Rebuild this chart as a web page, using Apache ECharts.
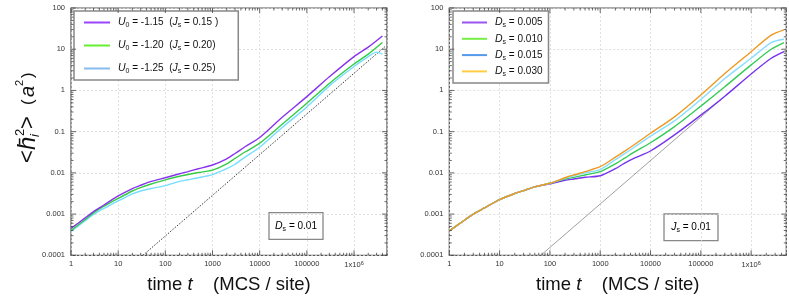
<!DOCTYPE html>
<html><head><meta charset="utf-8">
<script src="https://cdn.jsdelivr.net/npm/echarts@6/dist/echarts.min.js"></script>
<style>html,body{margin:0;padding:0;background:#fff}#c{width:789px;height:300px}</style>
</head><body><div id="c"></div>
<script>
// ---------- data ----------
const xTickLabels = ['1','10','100','1000','10000','100000','1x10^6'];
const yTickLabels = ['0.0001','0.001','0.01','0.1','1','10','100'];

// left panel : D_s = 0.01
const tLeft      = [1, 2, 3, 5, 10, 20, 30, 50, 100, 200, 300, 500, 1000, 2000, 3000, 5000, 1e4, 3e4, 1e5, 3e5, 1e6, 2e6, 4e6];
const leftU115   = [0.00045,0.00081,0.00115,0.00166,0.00275,0.00417,0.0050,0.0062,0.0076,0.0095,0.0107,0.0126,0.0155,0.0219,0.0295,0.0437,0.0724,0.224,0.708,2.14,6.61,11.2,20.9];
const leftU120   = [0.00040,0.00074,0.00107,0.00155,0.0024,0.00363,0.00437,0.00537,0.00676,0.0083,0.0091,0.0102,0.0117,0.0166,0.0224,0.0325,0.0525,0.151,0.49,1.48,4.37,7.59,14.5];
const tLeftC     = [1, 2, 3, 5, 10, 20, 30, 50, 100, 200, 300, 500, 1000, 2000, 3000, 5000, 1e4, 3e4, 1e5, 3e5, 1e6, 2e6, 3e6, 4e6];
const leftU125   = [0.00038,0.00069,0.00098,0.00138,0.00209,0.00309,0.00363,0.00417,0.0049,0.0062,0.0068,0.0076,0.0091,0.0126,0.0162,0.0245,0.0417,0.126,0.398,1.29,3.80,6.61,8.51,7.59];
const leftRefT   = [33.5, 4.5e6];
const leftRefY   = [0.0001, 11.5];

// right panel : J_s = 0.01
const tRight     = [1, 2, 3, 5, 10, 20, 30, 50, 100, 200, 300, 500, 1000, 2000, 3000, 5000, 1e4, 3e4, 1e5, 3e5, 1e6, 2.5e6, 4.5e6];
const rightD005  = [0.00039,0.00071,0.0010,0.00141,0.00224,0.00316,0.00372,0.00457,0.0054,0.0066,0.0071,0.0078,0.0085,0.0126,0.0170,0.0234,0.0339,0.0832,0.251,0.724,2.51,6.03,8.71];
const rightD010  = [0.00039,0.00071,0.0010,0.00141,0.00224,0.00316,0.00372,0.00457,0.0056,0.0071,0.0078,0.0089,0.0107,0.0166,0.0224,0.0331,0.0537,0.132,0.417,1.23,4.17,10.0,14.5];
const rightD015  = [0.00039,0.00071,0.0010,0.00141,0.00224,0.00316,0.00372,0.00457,0.0056,0.0074,0.0085,0.0100,0.0120,0.0209,0.0288,0.0437,0.0776,0.182,0.603,1.95,6.03,14.5,17.4];
const rightD030  = [0.00039,0.00071,0.0010,0.00141,0.00224,0.00316,0.00372,0.00457,0.0056,0.0076,0.0089,0.0107,0.0141,0.024,0.0331,0.0501,0.0912,0.229,0.776,2.57,8.71,21.9,29.5];
const rightRefT  = [66, 3e5];
const rightRefY  = [0.0001, 0.72];

// ---------- helpers ----------
const F = '"Liberation Sans", Arial, Helvetica, sans-serif';
const pair = (ts, ys) => ts.map((t, i) => [t, ys[i]]);
const X_MIN = 1, X_MAX = 5e6, Y_MIN = 0.0001, Y_MAX = 100;

function xFmt(v){
  const l = Math.log10(v), k = Math.round(l);
  if (Math.abs(l - k) > 1e-6 || k < 0 || k >= xTickLabels.length) return '';
  const s = xTickLabels[k];
  if (s.indexOf('^') >= 0){ const p = s.split('^'); return '{a|' + p[0] + '}{s|' + p[1] + '}'; }
  return '{a|' + s + '}';
}
function yFmt(v){
  const l = Math.log10(v), k = Math.round(l) + 4;
  if (Math.abs(l - Math.round(l)) > 1e-6 || k < 0 || k >= yTickLabels.length) return '';
  return yTickLabels[k];
}
// tick positions (decoration: decades and their 2..9 minors)
function tickList(lo, hi){
  const out = [];
  for (let e = Math.round(Math.log10(lo)); Math.pow(10, e) <= hi; e++){
    const d = Math.pow(10, e);
    for (let k = 1; k <= 9; k++){ const v = k * d; if (v >= lo*0.999 && v <= hi*1.001) out.push([v, k === 1 ? 1 : 0]); }
  }
  return out;
}
const xt = tickList(X_MIN, X_MAX), yt = tickList(Y_MIN, Y_MAX);

function tickSeries(idx){
  return [{
    type:'custom', xAxisIndex:idx, yAxisIndex:idx, silent:true, z:5, clip:false,
    data: xt.map(d => [d[0], 1, d[1]]),
    renderItem:(params, api) => {
      const cs = params.coordSys, p = api.coord([api.value(0), 1]);
      const len = api.value(2) ? 5 : 2.5, st = {stroke:'#444', lineWidth:0.8};
      return {type:'group', children:[
        {type:'line', shape:{x1:p[0], y1:cs.y+cs.height, x2:p[0], y2:cs.y+cs.height-len}, style:st},
        {type:'line', shape:{x1:p[0], y1:cs.y, x2:p[0], y2:cs.y+len}, style:st}]};
    }
  },{
    type:'custom', xAxisIndex:idx, yAxisIndex:idx, silent:true, z:5, clip:false,
    data: yt.map(d => [1, d[0], d[1]]),
    renderItem:(params, api) => {
      const cs = params.coordSys, p = api.coord([1, api.value(1)]);
      const len = api.value(2) ? 5 : 2.5, st = {stroke:'#444', lineWidth:0.8};
      return {type:'group', children:[
        {type:'line', shape:{x1:cs.x, y1:p[1], x2:cs.x+len, y2:p[1]}, style:st},
        {type:'line', shape:{x1:cs.x+cs.width, y1:p[1], x2:cs.x+cs.width-len, y2:p[1]}, style:st}]};
    }
  }];
}

function xAxis(idx){
  return {type:'log', logBase:10, gridIndex:idx, min:X_MIN, max:X_MAX,
    axisLine:{show:false}, axisTick:{show:false},
    splitLine:{show:true, lineStyle:{color:'#d8d8d8', type:[2,2], width:0.8}},
    axisLabel:{formatter:xFmt, margin:5, color:'#333', showMaxLabel:false,
      rich:{a:{fontSize:7.5, fontFamily:F, color:'#333'}, s:{fontSize:5.5, fontFamily:F, color:'#333', verticalAlign:'top', padding:[0,0,4,0]}}},
    name:'{n|time }{i|t}{n|    (MCS / site)}', nameLocation:'middle', nameGap:20,
    nameTextStyle:{rich:{n:{fontSize:18.5, fontFamily:F, color:'#111'}, i:{fontSize:18.5, fontFamily:F, fontStyle:'italic', color:'#111'}}}
  };
}
function yAxis(idx){
  return {type:'log', logBase:10, gridIndex:idx, min:Y_MIN, max:Y_MAX,
    axisLine:{show:false}, axisTick:{show:false},
    splitLine:{show:true, lineStyle:{color:'#d8d8d8', type:[2,2], width:0.8}},
    axisLabel:{formatter:yFmt, margin:6, color:'#333', fontSize:7.5, fontFamily:F}
  };
}

const legRich = {
  n:{fontSize:10, fontFamily:F, color:'#111', lineHeight:13},
  i:{fontSize:10.5, fontFamily:F, fontStyle:'italic', color:'#111', lineHeight:13},
  sb:{fontSize:7, fontFamily:F, color:'#111', verticalAlign:'bottom', lineHeight:8}
};
const legNames = {
  L1:'{i|U}{sb|0}{n| = -1.15  (}{i|J}{sb|s}{n| = 0.15 )}',
  L2:'{i|U}{sb|0}{n| = -1.20  (}{i|J}{sb|s}{n| = 0.20)}',
  L3:'{i|U}{sb|0}{n| = -1.25  (}{i|J}{sb|s}{n| = 0.25)}',
  R1:'{i|D}{sb|s}{n| = 0.005}', R2:'{i|D}{sb|s}{n| = 0.010}',
  R3:'{i|D}{sb|s}{n| = 0.015}', R4:'{i|D}{sb|s}{n| = 0.030}'
};
const legBase = {orient:'vertical', icon:'rect', itemHeight:2, selectedMode:false,
  backgroundColor:'#fff', borderColor:'#888', borderWidth:1.5,
  formatter:n => legNames[n], textStyle:{rich:legRich, padding:[0,0,0,3]}};

function line(name, data, color, idx, w){
  return {type:'line', name, xAxisIndex:idx, yAxisIndex:idx, data, showSymbol:false, symbol:'none',
    smooth:0.25, lineStyle:{color, width:w||1.4}, itemStyle:{color}, z:3, silent:true};
}
function insetBox(x, y, w, h, txt){
  return {type:'group', x, y, z:50, children:[
    {type:'rect', shape:{x:0, y:0, width:w, height:h}, style:{fill:'#fff', stroke:'#888', lineWidth:1.3}},
    {type:'text', x:w/2, y:h/2, style:{text:txt, align:'center', verticalAlign:'middle',
      rich:legRich}}]};
}
function yTitlePart(x, y, text, size, italic){
  return {type:'text', x, y, style:{text, fontSize:size, fontFamily:F, fontStyle:italic?'italic':'normal',
    fill:'#111', align:'left', verticalAlign:'middle'}};
}

const option = {
  animation:false,
  grid:[
    {left:71, top:8, width:316, height:247.3, show:true, borderColor:'#555', borderWidth:1.2, backgroundColor:'transparent'},
    {left:449.3, top:8, width:337, height:247.3, show:true, borderColor:'#555', borderWidth:1.2, backgroundColor:'transparent'}
  ],
  xAxis:[xAxis(0), xAxis(1)],
  yAxis:[yAxis(0), yAxis(1)],
  legend:[
    Object.assign({}, legBase, {left:74, top:11, itemGap:11, itemWidth:26, padding:[6,20,5,10],
      data:[{name:'L1', itemStyle:{color:'#9944ff'}}, {name:'L2', itemStyle:{color:'#66ee33'}}, {name:'L3', itemStyle:{color:'#88bbee'}}]}),
    Object.assign({}, legBase, {left:453, top:11, itemGap:4.3, itemWidth:25, padding:[6,6,5,9],
      data:[{name:'R1', itemStyle:{color:'#9955ee'}}, {name:'R2', itemStyle:{color:'#77ee44'}}, {name:'R3', itemStyle:{color:'#5599ee'}}, {name:'R4', itemStyle:{color:'#ffcc44'}}]})
  ],
  graphic:[
    {type:'group', x:28, y:117, rotation:Math.PI/2, children:[
      yTitlePart(-46, 0, '<', 22, false),
      yTitlePart(-33, 0, 'h\u0304', 24, true),
      yTitlePart(-19, -8, '2', 13, false),
      yTitlePart(-20, 7, 'i', 13, true),
      yTitlePart(-12, 0, '>', 22, false),
      yTitlePart(12, 0, '(', 17, false),
      yTitlePart(20, 0, 'a', 20, true),
      yTitlePart(31, -8, '2', 11, false),
      yTitlePart(39, 0, ')', 17, false)
    ]},
    insetBox(269, 212.7, 54, 26.6, '{i|D}{sb|s}{n| = 0.01}'),
    insetBox(664, 214, 54, 26.7, '{i|J}{sb|s}{n| = 0.01}')
  ],
  series:[
    {type:'line', name:'refL', xAxisIndex:0, yAxisIndex:0, data:pair(leftRefT, leftRefY), symbol:'none', silent:true,
      lineStyle:{color:'#222', width:0.9, type:[1.5,1.5]}, z:2},
    line('L3', pair(tLeftC, leftU125), '#77ddff', 0),
    line('L2', pair(tLeft, leftU120), '#33cc44', 0),
    line('L1', pair(tLeft, leftU115), '#8833ee', 0),
    {type:'line', name:'refR', xAxisIndex:1, yAxisIndex:1, data:pair(rightRefT, rightRefY), symbol:'none', silent:true,
      lineStyle:{color:'#777', width:0.7}, z:2},
    line('R1', pair(tRight, rightD005), '#7733ee', 1),
    line('R2', pair(tRight, rightD010), '#33cc55', 1),
    line('R3', pair(tRight, rightD015), '#88ddff', 1),
    line('R4', pair(tRight, rightD030), '#ee9922', 1)
  ].concat(tickSeries(0), tickSeries(1))
};
const chart = echarts.init(document.getElementById('c'), null, {renderer:'canvas'});
chart.setOption(option);
</script></body></html>
